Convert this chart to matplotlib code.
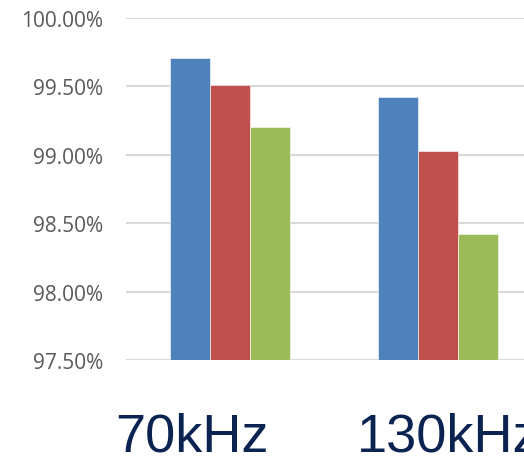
import numpy as np
import matplotlib.pyplot as plt
from matplotlib.ticker import FuncFormatter

categories = ["70kHz", "130kHz"]
series_blue = [99.71, 99.42]
series_red = [99.51, 99.03]
series_green = [99.20, 98.42]
yticks = [97.5, 98.0, 98.5, 99.0, 99.5, 100.0]

colors = ["#4F81BD", "#C0504D", "#9BBB59"]

fig = plt.figure(figsize=(5.24, 4.64), dpi=100)
ax = fig.add_axes([126 / 524, 103 / 464, 416 / 524, 342 / 464])

x = np.arange(len(categories))
w = 40 / 208
for i, (vals, c) in enumerate(zip([series_blue, series_red, series_green], colors)):
    ax.bar(x + (i - 1) * w, np.array(vals) - 97.5, bottom=97.5, width=w,
           color=c, edgecolor="white", linewidth=0.4, zorder=3)

ax.set_xlim(-0.5, 1.5)
ax.set_ylim(97.5, 100.0)
ax.set_yticks(yticks)
ax.yaxis.set_major_formatter(FuncFormatter(lambda v, p: f"{v:.2f}%"))
ax.tick_params(axis="y", length=0, pad=16.5, labelsize=15, labelcolor="#595959")
for lab in ax.get_yticklabels():
    lab.set_family("Open Sans")
ax.set_xticks([])
ax.grid(axis="y", color="#D9D9D9", linewidth=1.5, zorder=0)
for s in ax.spines.values():
    s.set_visible(False)

# category labels sit below the plot, not centred on the groups
label_x = [115, 357]
for lx, name in zip(label_x, categories):
    fig.text(lx / 524, 1 - 438 / 464, name, ha="left", va="center",
             fontsize=39, color="#0A2350", family="Liberation Sans")

fig.savefig("out.png", dpi=100)
